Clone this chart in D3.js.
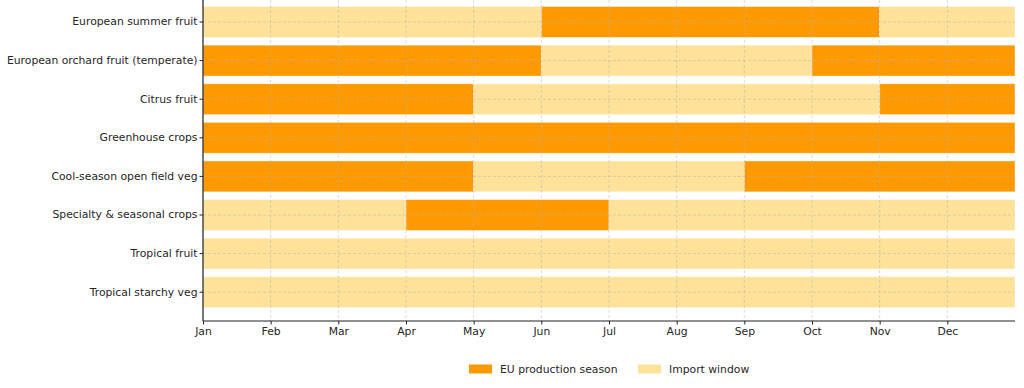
<!DOCTYPE html>
<html>
<head>
<meta charset="utf-8">
<script src="https://cdn.jsdelivr.net/npm/d3@7"></script>
<style>
  body { margin: 0; background: #fff; }
  text { font-family: "DejaVu Sans", sans-serif; }
</style>
</head>
<body>
<div id="chart"></div>
<script>
const categories = [
  "European summer fruit",
  "European orchard fruit (temperate)",
  "Citrus fruit",
  "Greenhouse crops",
  "Cool-season open field veg",
  "Specialty & seasonal crops",
  "Tropical fruit",
  "Tropical starchy veg"
];
const months = ["Jan", "Feb", "Mar", "Apr", "May", "Jun", "Jul", "Aug", "Sep", "Oct", "Nov", "Dec"];

// segments per category: [start month index, end month index, type]
const segments = [
  [[0, 5, "import"], [5, 10, "prod"], [10, 12, "import"]],
  [[0, 5, "prod"], [5, 9, "import"], [9, 12, "prod"]],
  [[0, 4, "prod"], [4, 10, "import"], [10, 12, "prod"]],
  [[0, 12, "prod"]],
  [[0, 4, "prod"], [4, 8, "import"], [8, 12, "prod"]],
  [[0, 3, "import"], [3, 6, "prod"], [6, 12, "import"]],
  [[0, 12, "import"]],
  [[0, 12, "import"]]
];
const legendLabels = { prod: "EU production season", import: "Import window" };
const colors = { prod: "#ff9900", import: "#ffe299" };

const W = 1024, H = 388;
const mLeft = 203, mRight = 1015, mTop = 0, mBottom = 321;
const fs = 10.8;

const svg = d3.select("#chart").append("svg")
  .attr("width", W).attr("height", H);

const x = d3.scaleLinear().domain([0, 12]).range([mLeft, mRight]);
const y = d3.scaleBand().domain(categories).range([2.7, 311.5])
  .paddingInner(0.2).paddingOuter(0.1);

// bars
const rows = svg.append("g").selectAll("g").data(categories).join("g");
rows.selectAll("rect")
  .data((c, i) => segments[i].map(s => ({ c, s })))
  .join("rect")
  .attr("x", d => x(d.s[0]))
  .attr("width", d => x(d.s[1]) - x(d.s[0]))
  .attr("y", d => y(d.c))
  .attr("height", y.bandwidth())
  .attr("fill", d => colors[d.s[2]])
  .attr("stroke", "#fff")
  .attr("stroke-opacity", 0.5)
  .attr("stroke-width", 0.8);

// grid over bars
const grid = svg.append("g")
  .attr("stroke", "#b0b0b0")
  .attr("stroke-opacity", 0.6)
  .attr("stroke-dasharray", "3,2")
  .attr("stroke-width", 0.8);
grid.selectAll("line.v").data(d3.range(0, 12)).join("line")
  .attr("class", "v")
  .attr("x1", d => x(d)).attr("x2", d => x(d))
  .attr("y1", mTop).attr("y2", mBottom);
grid.selectAll("line.h").data(categories).join("line")
  .attr("class", "h")
  .attr("x1", mLeft).attr("x2", mRight)
  .attr("y1", d => y(d) + y.bandwidth() / 2)
  .attr("y2", d => y(d) + y.bandwidth() / 2);

// axes
const xAxis = d3.axisBottom(x)
  .tickValues(d3.range(0, 12))
  .tickFormat(i => months[i])
  .tickSize(3.5).tickPadding(3);
const gx = svg.append("g").attr("transform", `translate(0,${mBottom})`).call(xAxis);
gx.select(".domain").attr("stroke", "#222").attr("stroke-width", 1.2)
  .attr("d", `M${mLeft},0H${mRight}`);
gx.selectAll(".tick line").attr("stroke", "#222");
gx.selectAll("text").attr("font-size", fs).attr("fill", "#262626");

const yAxis = d3.axisLeft(y).tickSize(3.5).tickPadding(2);
const gy = svg.append("g").attr("transform", `translate(${mLeft},0)`).call(yAxis);
gy.select(".domain").attr("stroke", "#222").attr("stroke-width", 1.2)
  .attr("d", `M0,${mTop}V${mBottom}`);
gy.selectAll(".tick line").attr("stroke", "#222");
gy.selectAll("text").attr("font-size", fs).attr("fill", "#262626");

// legend
const legend = svg.append("g").attr("transform", "translate(469,369)");
const items = ["prod", "import"];
const offsets = [0, 169];
items.forEach((k, i) => {
  const g = legend.append("g").attr("transform", `translate(${offsets[i]},0)`);
  g.append("rect").attr("x", 0).attr("y", -4.5).attr("width", 23).attr("height", 9)
    .attr("fill", colors[k]);
  g.append("text").attr("x", 31).attr("y", 0).attr("dy", "0.35em")
    .attr("font-size", fs).attr("fill", "#262626").text(legendLabels[k]);
});
</script>
</body>
</html>
